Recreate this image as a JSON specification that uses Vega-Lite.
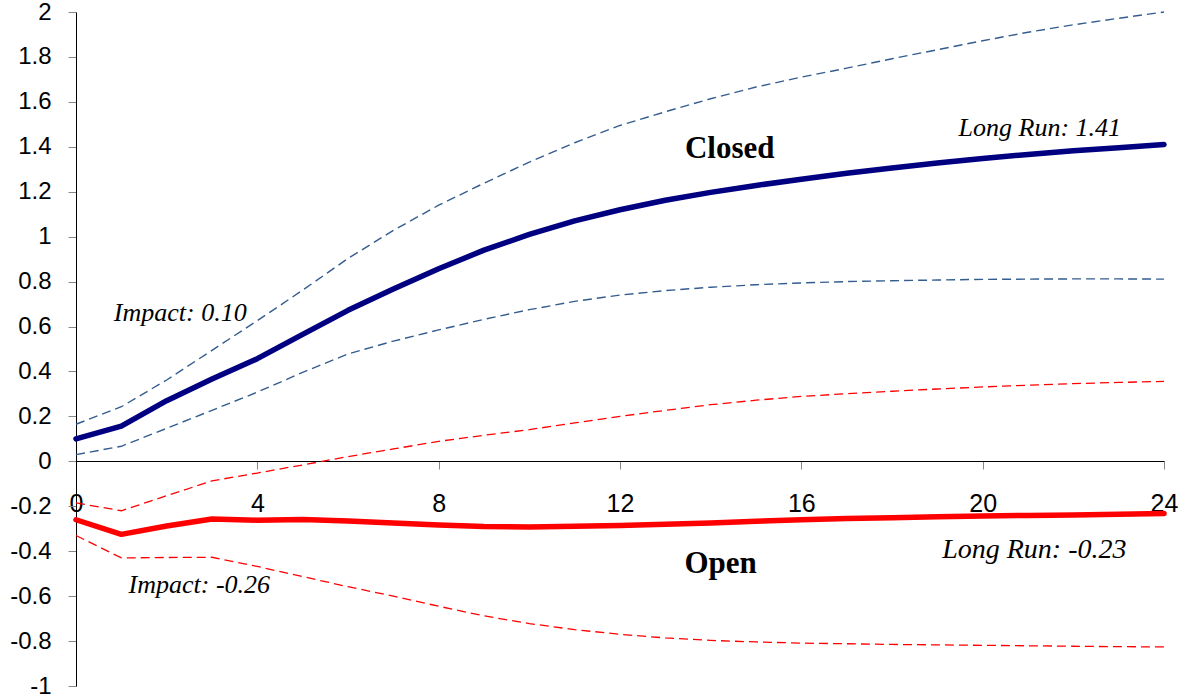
{
  "$schema": "https://vega.github.io/schema/vega-lite/v6.json",
  "width": 1088,
  "height": 674,
  "autosize": {"type": "none"},
  "padding": {"left": 76, "top": 12, "right": 16, "bottom": 12},
  "background": "white",
  "config": {"view": {"stroke": null}},
  "datasets": {
    "irf": [
      {"h": 0, "closed": 0.10, "closed_hi": 0.165, "closed_lo": 0.03, "open": -0.26, "open_hi": -0.185, "open_lo": -0.33},
      {"h": 1, "closed": 0.157, "closed_hi": 0.243, "closed_lo": 0.067, "open": -0.325, "open_hi": -0.22, "open_lo": -0.43},
      {"h": 2, "closed": 0.27, "closed_hi": 0.362, "closed_lo": 0.147, "open": -0.288, "open_hi": -0.153, "open_lo": -0.428},
      {"h": 3, "closed": 0.366, "closed_hi": 0.494, "closed_lo": 0.227, "open": -0.257, "open_hi": -0.087, "open_lo": -0.427},
      {"h": 4, "closed": 0.457, "closed_hi": 0.626, "closed_lo": 0.308, "open": -0.262, "open_hi": -0.052, "open_lo": -0.468},
      {"h": 5, "closed": 0.565, "closed_hi": 0.762, "closed_lo": 0.396, "open": -0.259, "open_hi": -0.016, "open_lo": -0.513},
      {"h": 6, "closed": 0.672, "closed_hi": 0.903, "closed_lo": 0.478, "open": -0.266, "open_hi": 0.021, "open_lo": -0.558},
      {"h": 7, "closed": 0.767, "closed_hi": 1.028, "closed_lo": 0.535, "open": -0.275, "open_hi": 0.055, "open_lo": -0.6},
      {"h": 8, "closed": 0.857, "closed_hi": 1.14, "closed_lo": 0.585, "open": -0.283, "open_hi": 0.089, "open_lo": -0.645},
      {"h": 9, "closed": 0.94, "closed_hi": 1.238, "closed_lo": 0.632, "open": -0.29, "open_hi": 0.116, "open_lo": -0.688},
      {"h": 10, "closed": 1.01, "closed_hi": 1.332, "closed_lo": 0.675, "open": -0.292, "open_hi": 0.141, "open_lo": -0.722},
      {"h": 11, "closed": 1.07, "closed_hi": 1.418, "closed_lo": 0.712, "open": -0.289, "open_hi": 0.171, "open_lo": -0.749},
      {"h": 12, "closed": 1.12, "closed_hi": 1.495, "closed_lo": 0.74, "open": -0.286, "open_hi": 0.2, "open_lo": -0.77},
      {"h": 13, "closed": 1.162, "closed_hi": 1.556, "closed_lo": 0.76, "open": -0.28, "open_hi": 0.227, "open_lo": -0.786},
      {"h": 14, "closed": 1.197, "closed_hi": 1.614, "closed_lo": 0.775, "open": -0.274, "open_hi": 0.252, "open_lo": -0.797},
      {"h": 15, "closed": 1.228, "closed_hi": 1.666, "closed_lo": 0.786, "open": -0.267, "open_hi": 0.272, "open_lo": -0.804},
      {"h": 16, "closed": 1.256, "closed_hi": 1.71, "closed_lo": 0.794, "open": -0.26, "open_hi": 0.289, "open_lo": -0.809},
      {"h": 17, "closed": 1.282, "closed_hi": 1.75, "closed_lo": 0.8, "open": -0.255, "open_hi": 0.301, "open_lo": -0.812},
      {"h": 18, "closed": 1.306, "closed_hi": 1.792, "closed_lo": 0.804, "open": -0.251, "open_hi": 0.312, "open_lo": -0.815},
      {"h": 19, "closed": 1.328, "closed_hi": 1.832, "closed_lo": 0.807, "open": -0.247, "open_hi": 0.322, "open_lo": -0.817},
      {"h": 20, "closed": 1.348, "closed_hi": 1.872, "closed_lo": 0.81, "open": -0.243, "open_hi": 0.331, "open_lo": -0.819},
      {"h": 21, "closed": 1.366, "closed_hi": 1.91, "closed_lo": 0.811, "open": -0.241, "open_hi": 0.339, "open_lo": -0.821},
      {"h": 22, "closed": 1.382, "closed_hi": 1.943, "closed_lo": 0.812, "open": -0.239, "open_hi": 0.346, "open_lo": -0.823},
      {"h": 23, "closed": 1.396, "closed_hi": 1.972, "closed_lo": 0.812, "open": -0.236, "open_hi": 0.351, "open_lo": -0.825},
      {"h": 24, "closed": 1.41, "closed_hi": 2.0, "closed_lo": 0.811, "open": -0.232, "open_hi": 0.356, "open_lo": -0.826}
    ],
    "notes": [
      {"note": "Impact: 0.10", "h": 2.3, "v": 0.626},
      {"note": "Long Run: 1.41", "h": 21.26, "v": 1.448},
      {"note": "Impact: -0.26", "h": 2.72, "v": -0.586}
    ],
    "notes2": [
      {"note": "Long Run: -0.23", "h": 21.14, "v": -0.43}
    ],
    "names": [
      {"note": "Closed", "h": 14.42, "v": 1.35},
      {"note": "Open", "h": 14.22, "v": -0.496}
    ]
  },
  "layer": [
    {
      "data": {"name": "irf"},
      "mark": {"type": "line", "color": "#335C8F", "strokeWidth": 1.4, "strokeDash": [9, 5]},
      "encoding": {
        "x": {
          "field": "h", "type": "quantitative",
          "scale": {"domain": [0, 24], "nice": false, "zero": false},
          "axis": {
            "values": [0, 4, 8, 12, 16, 20, 24],
            "offset": -225,
            "title": null, "grid": false,
            "domainColor": "#000000", "domainWidth": 1,
            "tickColor": "#888888", "tickSize": 8, "tickWidth": 1,
            "labelFont": "Liberation Sans", "labelFontSize": 25, "labelColor": "#000000",
            "labelPadding": 22, "labelFlush": false, "labelOverlap": false
          }
        },
        "y": {
          "field": "closed_hi", "type": "quantitative",
          "scale": {"domain": [-1, 2], "nice": false, "zero": false},
          "axis": {
            "values": [-1, -0.8, -0.6, -0.4, -0.2, 0, 0.2, 0.4, 0.6, 0.8, 1, 1.2, 1.4, 1.6, 1.8, 2],
            "labelExpr": "datum.value < 0 ? '-' + format(-datum.value, '~g') : format(datum.value, '~g')",
            "title": null, "grid": false,
            "domainColor": "#000000", "domainWidth": 1,
            "tickColor": "#888888", "tickSize": 8, "tickWidth": 1,
            "labelFont": "Liberation Sans", "labelFontSize": 24, "labelColor": "#000000",
            "labelPadding": 17, "labelFlush": false, "labelOverlap": false
          }
        }
      }
    },
    {
      "data": {"name": "irf"},
      "mark": {"type": "line", "color": "#335C8F", "strokeWidth": 1.4, "strokeDash": [9, 5]},
      "encoding": {"x": {"field": "h", "type": "quantitative"}, "y": {"field": "closed_lo", "type": "quantitative"}}
    },
    {
      "data": {"name": "irf"},
      "mark": {"type": "line", "color": "#FF0000", "strokeWidth": 1.3, "strokeDash": [9, 5]},
      "encoding": {"x": {"field": "h", "type": "quantitative"}, "y": {"field": "open_hi", "type": "quantitative"}}
    },
    {
      "data": {"name": "irf"},
      "mark": {"type": "line", "color": "#FF0000", "strokeWidth": 1.3, "strokeDash": [9, 5]},
      "encoding": {"x": {"field": "h", "type": "quantitative"}, "y": {"field": "open_lo", "type": "quantitative"}}
    },
    {
      "data": {"name": "irf"},
      "mark": {"type": "line", "color": "#000080", "strokeWidth": 5.5, "strokeCap": "round", "strokeJoin": "round"},
      "encoding": {"x": {"field": "h", "type": "quantitative"}, "y": {"field": "closed", "type": "quantitative"}}
    },
    {
      "data": {"name": "irf"},
      "mark": {"type": "line", "color": "#FF0000", "strokeWidth": 5.5, "strokeCap": "round", "strokeJoin": "round"},
      "encoding": {"x": {"field": "h", "type": "quantitative"}, "y": {"field": "open", "type": "quantitative"}}
    },
    {
      "data": {"name": "notes"},
      "mark": {"type": "text", "font": "Liberation Serif", "fontStyle": "italic", "fontSize": 26, "align": "center", "baseline": "alphabetic", "color": "#000000"},
      "encoding": {
        "x": {"field": "h", "type": "quantitative"},
        "y": {"field": "v", "type": "quantitative"},
        "text": {"field": "note", "type": "nominal"}
      }
    },
    {
      "data": {"name": "notes2"},
      "mark": {"type": "text", "font": "Liberation Serif", "fontStyle": "italic", "fontSize": 28, "align": "center", "baseline": "alphabetic", "color": "#000000"},
      "encoding": {
        "x": {"field": "h", "type": "quantitative"},
        "y": {"field": "v", "type": "quantitative"},
        "text": {"field": "note", "type": "nominal"}
      }
    },
    {
      "data": {"name": "names"},
      "mark": {"type": "text", "font": "Liberation Serif", "fontWeight": "bold", "fontSize": 31, "align": "center", "baseline": "alphabetic", "color": "#000000"},
      "encoding": {
        "x": {"field": "h", "type": "quantitative"},
        "y": {"field": "v", "type": "quantitative"},
        "text": {"field": "note", "type": "nominal"}
      }
    }
  ]
}
